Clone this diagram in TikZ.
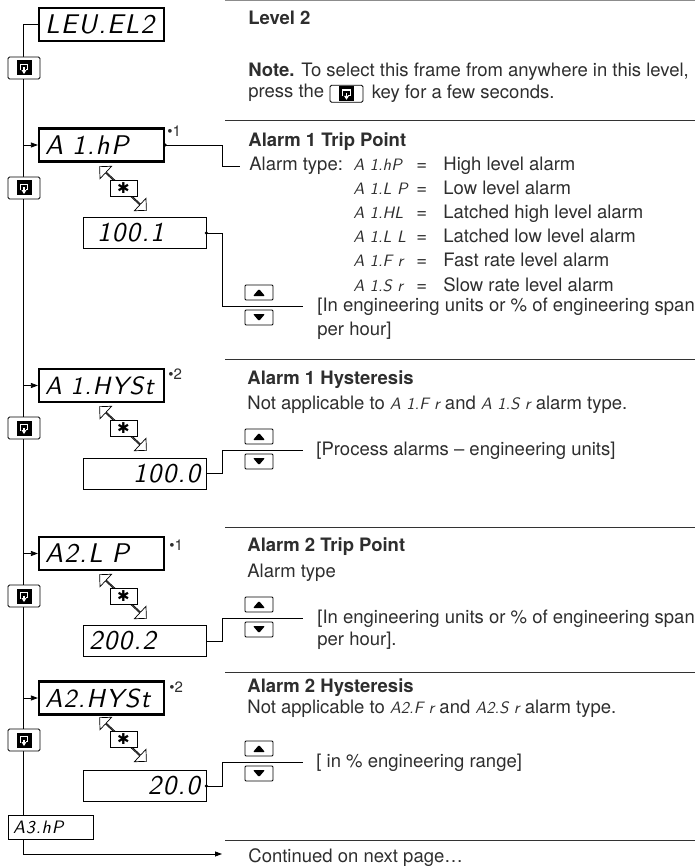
\documentclass[tikz,border=0pt]{standalone}
\usepackage{fontspec}
\setmainfont{TeX Gyre Heros}
\newfontfamily\symfont{DejaVu Sans}
\newfontfamily\segfont[LetterSpace=5]{lmsans10-oblique.otf}
\newfontfamily\segplain{lmsans10-oblique.otf}
\usetikzlibrary{arrows.meta,shapes.arrows,positioning}

\definecolor{ink}{gray}{0.18}
\newcommand\segbig{\fontsize{27}{27}\segfont}
\newcommand\segsmall{\fontsize{18}{18}\segfont}
\newcommand\segtx[1]{{\fontsize{16.5}{20}\segplain #1}}

% white glyph of the scroll key
\newcommand\loopglyph[1]{%
  \begin{scope}[shift={(path picture bounding box.center)},scale=#1,sharp corners]
    \fill[black] (-7.5,-7.5) rectangle (7.5,7.5);
    \draw[white,line width=1.3pt] (-3.8,2.5) -- (-3.8,-3.8) -- (3.8,-3.8) -- (3.8,1.5) -- (1.8,1.5);
    \draw[white,line width=1.3pt] (0,-0.5) -- (0,2.5);
    \fill[white] (-2.4,2.2) -- (2.4,2.2) -- (0,6) -- cycle;
  \end{scope}}

\tikzset{
  disp/.style={draw,line width=2.2pt,minimum height=33pt,text width=125pt,inner xsep=0pt,inner ysep=0pt,align=left,font=\segbig},
  valbox/.style={draw,line width=0.8pt,minimum height=31pt,text width=111pt,inner xsep=6pt,inner ysep=0pt,font=\segbig},
  loopkey/.style={draw,fill=white,rounded corners=1.5pt,line width=0.8pt,minimum width=32pt,minimum height=22pt,inner sep=0pt,path picture={\loopglyph{1}}},
  loopkeysm/.style={draw,fill=white,rounded corners=1.5pt,line width=0.8pt,minimum width=33pt,minimum height=17pt,inner sep=0pt,path picture={\loopglyph{0.8}}},
  upkey/.style={draw,fill=white,rounded corners=1pt,line width=0.8pt,minimum width=28pt,minimum height=15pt,inner sep=0pt,
    path picture={\fill[black,shift={(path picture bounding box.center)}] (-6,3.5) -- (6,3.5) -- (0,-3.5) -- cycle;}},
  downkey/.style={draw,fill=white,rounded corners=1pt,line width=0.8pt,minimum width=28pt,minimum height=15pt,inner sep=0pt,
    path picture={\fill[black,shift={(path picture bounding box.center)}] (-6,-3.5) -- (6,-3.5) -- (0,3.5) -- cycle;}},
  starkey/.style={draw,fill=white,line width=0.8pt,minimum width=27pt,minimum height=16pt,inner sep=0pt,font=\symfont\fontsize{15}{15}\selectfont},
  dblarrow/.style={shape=double arrow,draw,fill=white,line width=0.7pt,minimum height=64pt,minimum width=17pt,double arrow head extend=4.5pt,inner sep=0pt,rotate=-43},
  txt/.style={anchor=base west,inner sep=0pt,text=ink,font=\fontsize{18.5}{22}\selectfont},
  hd/.style={anchor=base west,inner sep=0pt,text=ink,font=\fontsize{18.5}{22}\bfseries\selectfont},
  refmark/.style={anchor=base west,inner sep=0pt,text=ink,font=\fontsize{15}{15}\selectfont},
  sep/.style={line width=0.9pt,black!80},
  tip/.style={-{Triangle[length=7pt,width=5pt]}}
}

\begin{document}
\begin{tikzpicture}[x=1pt,y=-1pt,line width=0.8pt]
	\useasboundingbox (0,0) rectangle (695,866);

	% separators
	\draw[black!45,line width=0.7pt] (225,0.5) -- (695,0.5);
	\draw[sep] (225,120) -- (695,120);
	\draw[sep] (225,359) -- (695,359);
	\draw[sep] (225,527) -- (695,527);
	\draw[sep] (225,672) -- (695,672);
	\draw[sep] (225,840) -- (695,840);

	% displays
	\node[disp] (lvl) at (101.5,24.5) {\hspace*{6pt}LEU.EL2};
	\node[disp] (ahp) at (101.5,145) {\hspace*{6pt}A 1.hP};
	\node[disp] (ahys) at (101.5,385.5) {\hspace*{6pt}{\fontsize{25}{25}\segfont A 1.HYSt}};
	\node[disp] (blp) at (101.5,553.5) {\hspace*{6pt}A2.L P};
	\node[disp] (bhys) at (101.5,698) {\hspace*{6pt}{\fontsize{26}{26}\segfont A2.HYSt}};
	\node[draw,line width=0.8pt,minimum width=85pt,minimum height=24pt,text width=75pt,inner xsep=5pt,align=left,font=\segsmall] (athree) at (50.5,827) {A3.hP};

	\node[refmark] (m1) at (167,137) {•1};
	\node[refmark] (m2) at (168,379) {•2};
	\node[refmark] (m3) at (169,550) {•1};
	\node[refmark] (m4) at (169,692) {•2};

	% values
	\node[valbox,align=left] (vahp) at (144.5,233) {\hspace*{8pt}100.1};
	\node[valbox,align=right] (vahys) at (144.5,473.5) {100.0};
	\node[valbox,align=left] (vblp) at (144.5,641) {200.2};
	\node[valbox,align=right] (vbhys) at (144.5,786) {20.0};

	% star key arrows
	\node[dblarrow] (da1) at (123,188.5) {};
	\node[starkey] (s1) at (123.5,188.5) {✱};
	\node[dblarrow] (da2) at (123,428.5) {};
	\node[starkey] (s2) at (123.5,428.5) {✱};
	\node[dblarrow] (da3) at (123,596.5) {};
	\node[starkey] (s3) at (123.5,596.5) {✱};
	\node[dblarrow] (da4) at (123,739.5) {};
	\node[starkey] (s4) at (123.5,739.5) {✱};

	% left rail
	\coordinate (rail) at (24,0);
	\coordinate (endarr) at (222,854);
	\draw (lvl.west) -| ([xshift=16pt]athree.north west);
	\draw[tip] (ahp.west -| rail) -- (ahp.west);
	\draw[tip] (ahys.west -| rail) -- (ahys.west);
	\draw[tip] (blp.west -| rail) -- (blp.west);
	\draw[tip] (bhys.west -| rail) -- (bhys.west);
	\draw[tip] ([xshift=16pt]athree.south west) |- (endarr);
	\node[loopkey] (k1) at (24,68) {};
	\node[loopkey] (k2) at (24,188) {};
	\node[loopkey] (k3) at (24,428) {};
	\node[loopkey] (k4) at (24,596) {};
	\node[loopkey] (k5) at (24,740) {};

	% level 2
	\node[hd] (t0) at (248,24.5) {Level 2};
	\node[txt] (n1) at (248,77) {\textbf{Note.} To select this frame from anywhere in this level,};
	\node[txt] (n2) at (248,98) {press the};
	\node[loopkeysm,right=5pt of n2.east,yshift=-0.5pt] (kp) {};
	\node[txt,right=8pt of kp.east,anchor=west] (n3) {key for a few seconds.};

	% alarm 1 trip point
	\node[hd] (t1) at (248,147) {Alarm 1 Trip Point};
	\node[txt] (atype) at (249,171) {Alarm type:};
	\node[txt] (c1) at (353,171) {\segtx{A 1.hP}};
	\node[txt] (e1) at (416,171) {=};
	\node[txt] (d1) at (443,171) {High level alarm};
	\node[txt] (c2) at (353,195) {\segtx{A 1.L P}};
	\node[txt] (e2) at (416,195) {=};
	\node[txt] (d2) at (443,195) {Low level alarm};
	\node[txt] (c3) at (353,219) {\segtx{A 1.HL}};
	\node[txt] (e3) at (416,219) {=};
	\node[txt] (d3) at (443,219) {Latched high level alarm};
	\node[txt] (c4) at (353,243) {\segtx{A 1.L L}};
	\node[txt] (e4) at (416,243) {=};
	\node[txt] (d4) at (443,243) {Latched low level alarm};
	\node[txt] (c5) at (353,267) {\segtx{A 1.F r}};
	\node[txt] (e5) at (416,267) {=};
	\node[txt] (d5) at (443,267) {Fast rate level alarm};
	\node[txt] (c6) at (353,291) {\segtx{A 1.S r}};
	\node[txt] (e6) at (416,291) {=};
	\node[txt] (d6) at (443,291) {Slow rate level alarm};
	\node[txt] (u1) at (317,311.5) {[In engineering units or \% of engineering span};
	\node[txt] (u1b) at (317,335) {per hour]};
	\node[upkey] (up1) at (259,292.5) {};
	\node[downkey] (dn1) at (259,317.5) {};
	\draw (ahp.east) -- ++(57,0) |- ([xshift=-9pt]atype.west);
	\fill (ahp.east) circle (1.7pt);
	\draw (vahp.east) -- ++(16,0) |- ([xshift=-14pt]u1.west);
	\fill (vahp.east) circle (1.7pt);

	% alarm 1 hysteresis
	\node[hd] (t2) at (247,384.5) {Alarm 1 Hysteresis};
	\node[txt] (na1) at (247,409.5) {Not applicable to \segtx{A 1.F r} and \segtx{A 1.S r} alarm type.};
	\node[txt] (u2) at (316,455.5) {[Process alarms -- engineering units]};
	\node[upkey] (up2) at (259,436.5) {};
	\node[downkey] (dn2) at (259,461.5) {};
	\draw (vahys.east) -- ++(16,0) |- ([xshift=-13pt]u2.west);

	% alarm 2 trip point
	\node[hd] (t3) at (247,551.5) {Alarm 2 Trip Point};
	\node[txt] (at2) at (247,577.5) {Alarm type};
	\node[txt] (u3) at (317,623.5) {[In engineering units or \% of engineering span};
	\node[txt] (u3b) at (317,645.5) {per hour].};
	\node[upkey] (up3) at (259,604.5) {};
	\node[downkey] (dn3) at (259,629.5) {};
	\draw (vblp.east) -- ++(16,0) |- ([xshift=-14pt]u3.west);

	% alarm 2 hysteresis
	\node[hd] (t4) at (247,692) {Alarm 2 Hysteresis};
	\node[txt] (na2) at (247,713) {Not applicable to \segtx{A2.F r} and \segtx{A2.S r} alarm type.};
	\node[txt] (u4) at (316,767.5) {[ in \% engineering range]};
	\node[upkey] (up4) at (259,748.5) {};
	\node[downkey] (dn4) at (259,773.5) {};
	\draw (vbhys.east) -- ++(16,0) |- ([xshift=-13pt]u4.west);
	\fill (vbhys.east) circle (1.7pt);

	\node[txt] (cont) at (248,862) {Continued on next page…};
\end{tikzpicture}
\end{document}
